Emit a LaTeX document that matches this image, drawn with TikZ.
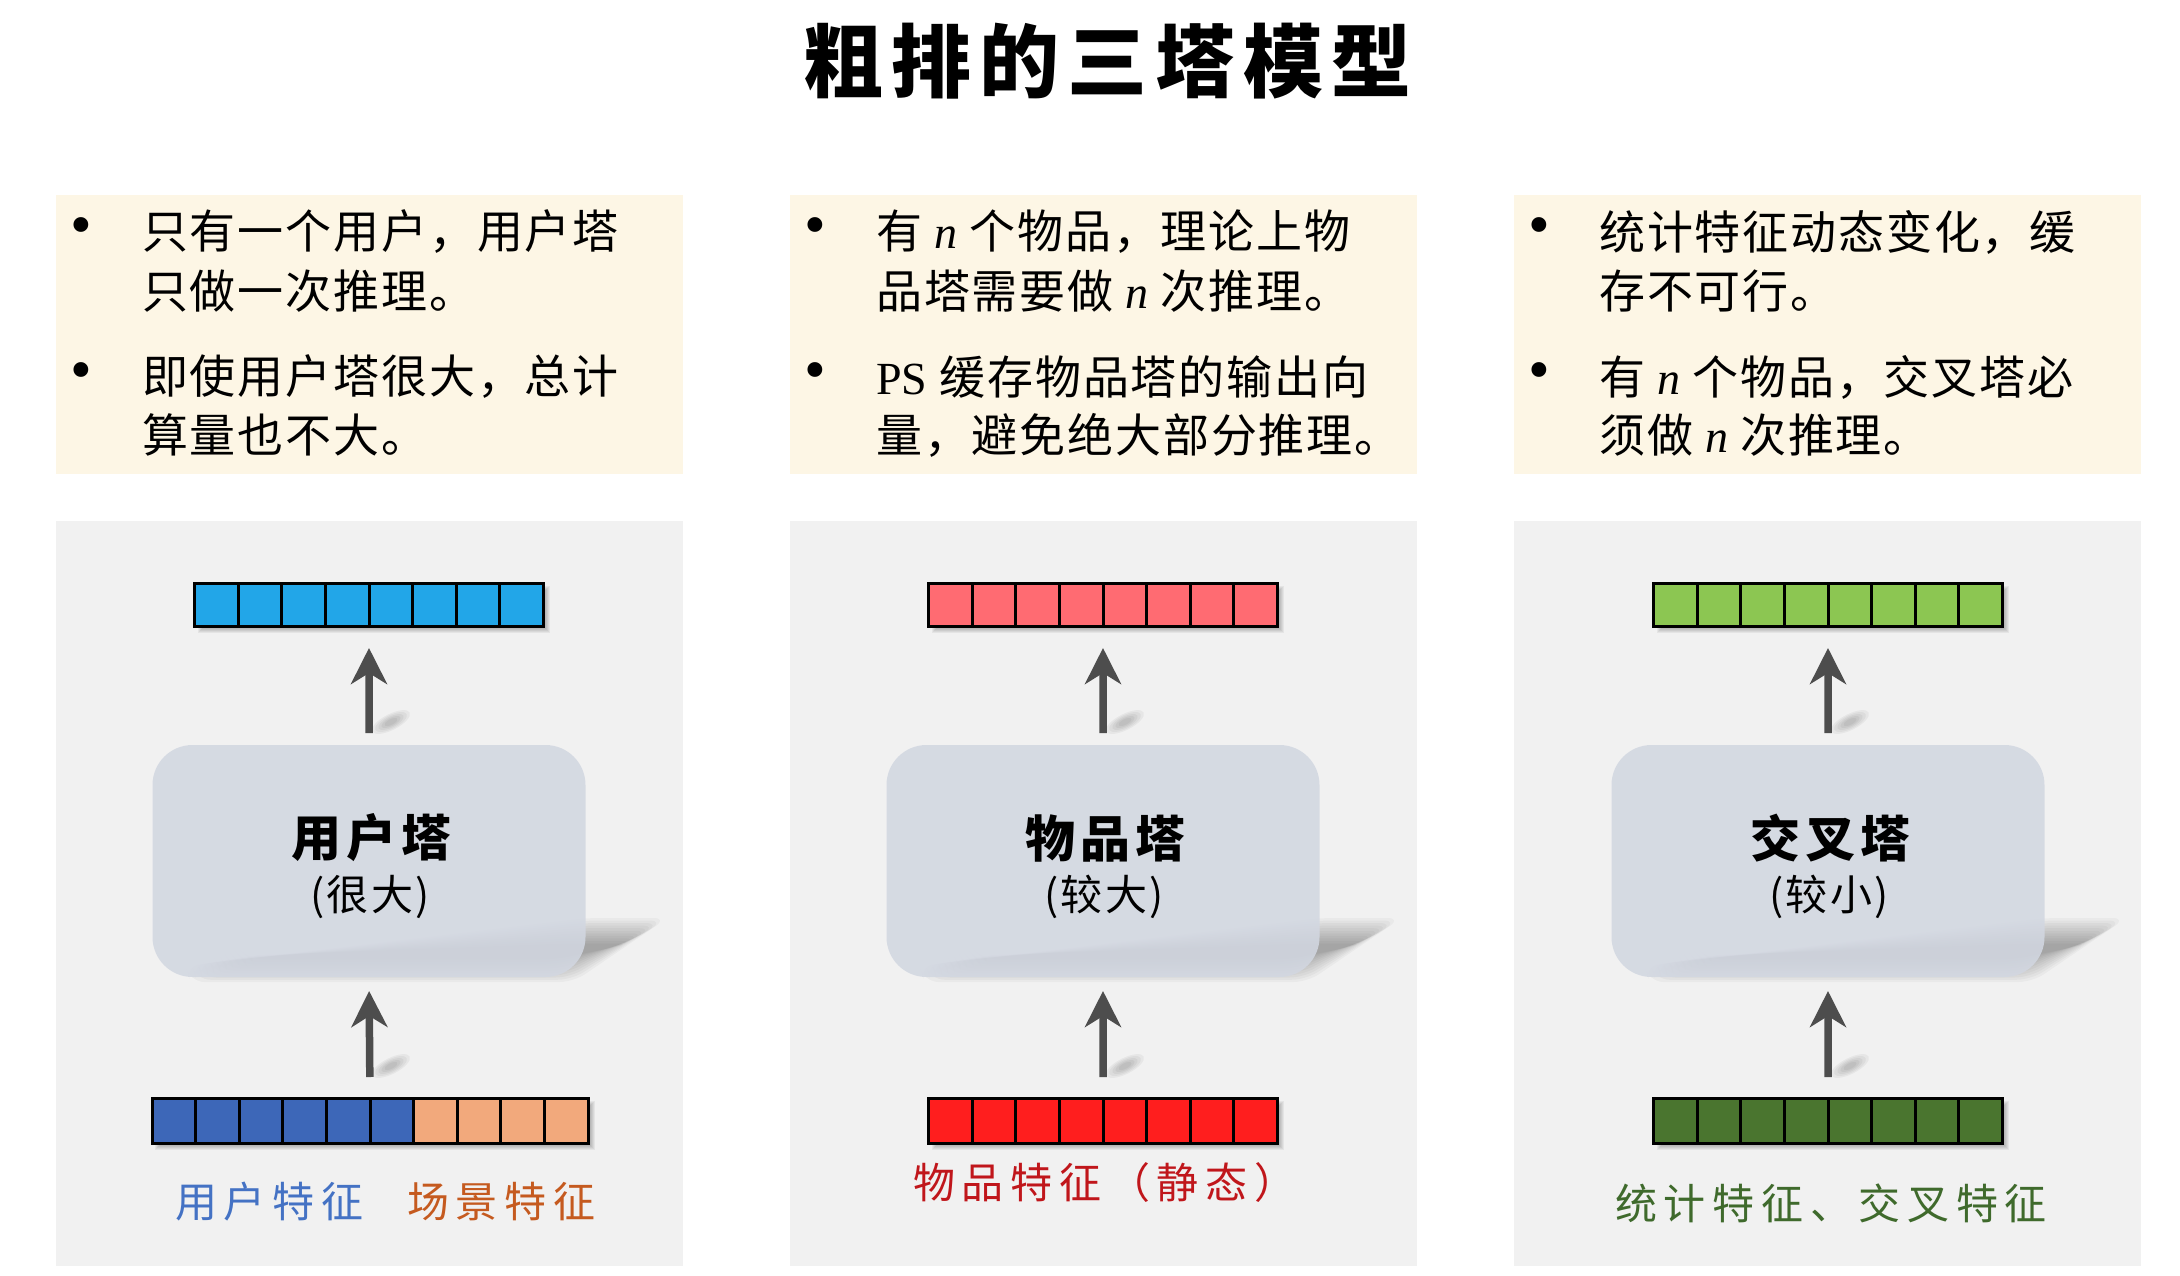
\documentclass[tikz,border=0pt]{standalone}
\usepackage{fontspec}
\newfontfamily\cjk{Noto Sans CJK SC}
\newfontfamily\lser{Liberation Serif}
\usetikzlibrary{arrows.meta,calc}
\pgfdeclarelayer{back}
\pgfdeclarelayer{shade}
\pgfsetlayers{back,shade,main}
\definecolor{notebg}{HTML}{FDF6E5}
\definecolor{panelbg}{HTML}{F1F1F1}
\definecolor{towerbg}{RGB}{210,215,225}
\definecolor{arrowc}{HTML}{4D4D4D}
\definecolor{ublue}{HTML}{22A6E8}
\definecolor{ipink}{HTML}{FF6B72}
\definecolor{cgreen}{HTML}{8CC652}
\definecolor{ufeat}{HTML}{3D67B8}
\definecolor{sfeat}{HTML}{F2A97C}
\definecolor{ifeat}{HTML}{FF1E1E}
\definecolor{cfeat}{HTML}{4A752F}
\definecolor{ulab}{HTML}{4472C4}
\definecolor{slab}{HTML}{C55A1F}
\definecolor{ilab}{HTML}{C0161B}
\definecolor{clab}{HTML}{3F6A2C}
\newcommand\fsz[2]{\fontsize{#1}{#2}\selectfont}
\newcommand\trk[1]{\addfontfeature{LetterSpace=#1}}
\newcommand\itn{{\lser\itshape n}}
\tikzset{
  txt/.style={inner sep=0pt, anchor=west, font=\cjk\fsz{46}{56}\trk{4}},
  bul/.style={inner sep=0pt, anchor=center, font=\lser\fsz{62}{66}},
  note/.style={fill=notebg, draw=none, inner sep=0pt, outer sep=0pt, anchor=north west},
  panel/.style={fill=panelbg, draw=none, inner sep=0pt, outer sep=0pt, anchor=north west},
  vec/.style={draw=black, line width=3pt, inner sep=0pt, outer sep=0pt},
  arr/.style={draw=arrowc, line width=7.5pt, -{Stealth[length=36pt,width=36pt,inset=11pt]}},
  tower/.style={rounded corners=40pt, fill=towerbg, fill opacity=0.88, draw=none,
    minimum width=433pt, minimum height=232pt, inner sep=0pt, outer sep=0pt},
  tname/.style={inner sep=0pt, font=\cjk\bfseries\fsz{50}{60}\trk{10}},
  tsize/.style={inner sep=0pt, font=\cjk\fsz{42}{50}\trk{6}},
  lab/.style={inner sep=0pt, anchor=west, font=\cjk\fsz{42}{50}\trk{16}},
}
% row of cells: name, west coordinate, number of cells, colour, height
\newcommand\cellrow[5]{%
  \node[vec, fill=#4, minimum width=#3*43.6pt, minimum height=#5pt, anchor=west] (#1) at #2 {};
  \pgfmathtruncatemacro\ncm{#3-1}%
  \foreach \k in {1,...,\ncm} {\draw[line width=3pt] ($(#1.north west)+(\k*43.6,0)$) -- ($(#1.south west)+(\k*43.6,0)$);}%
}
\newcommand\vshadow[2]{%
  \begin{pgfonlayer}{shade}
  \foreach \k in {0,...,5}{\fill[black,opacity=0.05] ($#1+(3+\k,3+\k)$) rectangle ($#2+(7-\k,7-\k)$);}
  \end{pgfonlayer}}
\newcommand\towershadow[1]{%
  \begin{pgfonlayer}{shade}
  \foreach \k in {0,...,10}{%
    \pgfmathsetmacro\sx{1-0.02*\k}\pgfmathsetmacro\sy{1-0.075*\k}%
    \begin{scope}[shift={($(#1.south east)+(-100,-25)$)}, xscale=\sx, yscale=\sy]
      \fill[black, opacity=0.03, rounded corners=14pt] (-300,14) -- (100,-34) -- (182,-34) -- (88,30) -- (-295,30) -- cycle;
    \end{scope}}
  \end{pgfonlayer}}
\newcommand\arrowshadow[1]{%
  \begin{pgfonlayer}{shade}
  \foreach \k in {0,...,4}{\fill[black, opacity=0.045, shift={#1}, rotate=27] (0,0) ellipse [x radius={21-3.5*\k}, y radius={8-1.3*\k}];}
  \end{pgfonlayer}}
\begin{document}
\begin{tikzpicture}[x=1pt, y=-1pt]
\useasboundingbox (0,0) rectangle (2180,1276);
\begin{pgfonlayer}{back}
  \fill[white] (0,0) rectangle (2180,1276);
  \node[note, minimum width=627pt, minimum height=279pt] (note1) at (56,195) {};
  \node[note, minimum width=627pt, minimum height=279pt] (note2) at (790,195) {};
  \node[note, minimum width=627pt, minimum height=279pt] (note3) at (1514,195) {};
  \node[panel, minimum width=627pt, minimum height=745pt] (panel1) at (56,521) {};
  \node[panel, minimum width=627pt, minimum height=745pt] (panel2) at (790,521) {};
  \node[panel, minimum width=627pt, minimum height=745pt] (panel3) at (1514,521) {};
\end{pgfonlayer}

% title
\node[inner sep=0pt, font=\cjk\bfseries\fsz{80}{92}\trk{10}] (title) at (1107,61) {粗排的三塔模型};

% note texts
\node[bul] (lb1) at (81,232) {•};
\node[bul] (lb2) at (81,377) {•};
\node[txt] (l1a) at (142,232) {只有一个用户，用户塔};
\node[txt] (l1b) at (142,291) {只做一次推理。};
\node[txt] (l2a) at (142,377) {即使用户塔很大，总计};
\node[txt] (l2b) at (142,435) {算量也不大。};

\node[bul] (mb1) at (815,232) {•};
\node[bul] (mb2) at (815,377) {•};
\node[txt] (m1a) at (876,232) {有 \itn\ 个物品，理论上物};
\node[txt] (m1b) at (876,291) {品塔需要做 \itn\ 次推理。};
\node[txt] (m2a) at (876,377) {{\lser PS} 缓存物品塔的输出向};
\node[txt] (m2b) at (876,435) {量，避免绝大部分推理。};

\node[bul] (rb1) at (1539,232) {•};
\node[bul] (rb2) at (1539,377) {•};
\node[txt] (r1a) at (1599,232) {统计特征动态变化，缓};
\node[txt] (r1b) at (1599,291) {存不可行。};
\node[txt] (r2a) at (1599,377) {有 \itn\ 个物品，交叉塔必};
\node[txt] (r2b) at (1599,435) {须做 \itn\ 次推理。};

% ---------- towers ----------
\node[tower] (utower) at (369,861) {};
\node[tower] (itower) at (1103,861) {};
\node[tower] (ctower) at (1828,861) {};
\towershadow{utower}
\towershadow{itower}
\towershadow{ctower}
\node[tname] (utname) at (371,838) {用户塔};
\node[tsize] (utsize) at (370,897) {(很大)};
\node[tname] (itname) at (1105,838) {物品塔};
\node[tsize] (itsize) at (1104,897) {(较大)};
\node[tname] (ctname) at (1830,838) {交叉塔};
\node[tsize] (ctsize) at (1829,897) {(较小)};

% ---------- output vectors ----------
\cellrow{utop}{(194.6,604.5)}{8}{ublue}{43}
\cellrow{itop}{(928.6,604.5)}{8}{ipink}{43}
\cellrow{ctop}{(1653.6,604.5)}{8}{cgreen}{43}
\vshadow{(utop.north west)}{(utop.south east)}
\vshadow{(itop.north west)}{(itop.south east)}
\vshadow{(ctop.north west)}{(ctop.south east)}

% ---------- input vectors ----------
\cellrow{ubot}{(152,1120.5)}{6}{ufeat}{45}
\cellrow{sbot}{(ubot.east)}{4}{sfeat}{45}
\cellrow{ibot}{(928.6,1120.5)}{8}{ifeat}{45}
\cellrow{cbot}{(1653.6,1120.5)}{8}{cfeat}{45}
\vshadow{(ubot.north west)}{(sbot.south east)}
\vshadow{(ibot.north west)}{(ibot.south east)}
\vshadow{(cbot.north west)}{(cbot.south east)}
\coordinate (ubotc) at ($(ubot.north west)!0.5!(sbot.north east)$);

% ---------- arrows ----------
\draw[arr, shorten <=12pt, shorten >=22pt] (utower.north) -- (utop.south);
\draw[arr, shorten <=12pt, shorten >=22pt] (itower.north) -- (itop.south);
\draw[arr, shorten <=12pt, shorten >=22pt] (ctower.north) -- (ctop.south);
\draw[arr, shorten <=21pt, shorten >=14pt] (ubotc) -- (utower.south);
\draw[arr, shorten <=21pt, shorten >=14pt] (ibot.north) -- (itower.south);
\draw[arr, shorten <=21pt, shorten >=14pt] (cbot.north) -- (ctower.south);
\arrowshadow{($(utower.north)+(22,-23)$)}
\arrowshadow{($(itower.north)+(22,-23)$)}
\arrowshadow{($(ctower.north)+(22,-23)$)}
\arrowshadow{($(utower.south)+(22,89)$)}
\arrowshadow{($(itower.south)+(22,89)$)}
\arrowshadow{($(ctower.south)+(22,89)$)}

% ---------- labels ----------
\node[lab, text=ulab] (ulabel) at (175,1202) {用户特征};
\node[lab, text=slab] (slabel) at (407,1202) {场景特征};
\node[lab, text=ilab] (ilabel) at (913,1183) {物品特征（静态）};
\node[lab, text=clab] (clabel) at (1615,1203) {统计特征、交叉特征};
\end{tikzpicture}
\end{document}
